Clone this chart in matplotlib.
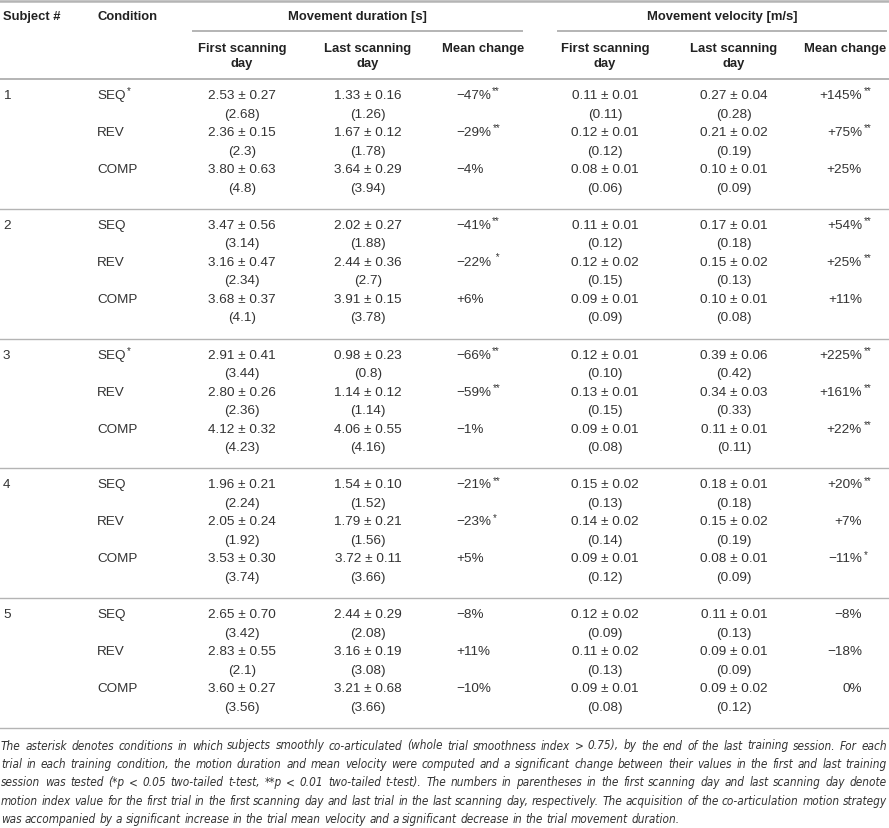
import matplotlib
matplotlib.use("Agg")
import matplotlib.pyplot as plt
from matplotlib import font_manager
from matplotlib.font_manager import FontProperties

# данные таблицы
subjects = ["1", "2", "3", "4", "5"]
conditions = ["SEQ", "REV", "COMP"]
cond_star = [["*", "", ""], ["", "", ""], ["*", "", ""], ["", "", ""], ["", "", ""]]

dur_first_mean = [[2.53, 2.36, 3.80], [3.47, 3.16, 3.68], [2.91, 2.80, 4.12], [1.96, 2.05, 3.53], [2.65, 2.83, 3.60]]
dur_first_sd = [[0.27, 0.15, 0.63], [0.56, 0.47, 0.37], [0.41, 0.26, 0.32], [0.21, 0.24, 0.30], [0.70, 0.55, 0.27]]
dur_first_trial = [["2.68", "2.3", "4.8"], ["3.14", "2.34", "4.1"], ["3.44", "2.36", "4.23"], ["2.24", "1.92", "3.74"], ["3.42", "2.1", "3.56"]]
dur_last_mean = [[1.33, 1.67, 3.64], [2.02, 2.44, 3.91], [0.98, 1.14, 4.06], [1.54, 1.79, 3.72], [2.44, 3.16, 3.21]]
dur_last_sd = [[0.16, 0.12, 0.29], [0.27, 0.36, 0.15], [0.23, 0.12, 0.55], [0.10, 0.21, 0.11], [0.29, 0.19, 0.68]]
dur_last_trial = [["1.26", "1.78", "3.94"], ["1.88", "2.7", "3.78"], ["0.8", "1.14", "4.16"], ["1.52", "1.56", "3.66"], ["2.08", "3.08", "3.66"]]
dur_change = [[-47, -29, -4], [-41, -22, 6], [-66, -59, -1], [-21, -23, 5], [-8, 11, -10]]
dur_sig = [["**", "**", ""], ["**", " *", ""], ["**", "**", ""], ["**", "*", ""], ["", "", ""]]

vel_first_mean = [[0.11, 0.12, 0.08], [0.11, 0.12, 0.09], [0.12, 0.13, 0.09], [0.15, 0.14, 0.09], [0.12, 0.11, 0.09]]
vel_first_sd = [[0.01, 0.01, 0.01], [0.01, 0.02, 0.01], [0.01, 0.01, 0.01], [0.02, 0.02, 0.01], [0.02, 0.02, 0.01]]
vel_first_trial = [["0.11", "0.12", "0.06"], ["0.12", "0.15", "0.09"], ["0.10", "0.15", "0.08"], ["0.13", "0.14", "0.12"], ["0.09", "0.13", "0.08"]]
vel_last_mean = [[0.27, 0.21, 0.10], [0.17, 0.15, 0.10], [0.39, 0.34, 0.11], [0.18, 0.15, 0.08], [0.11, 0.09, 0.09]]
vel_last_sd = [[0.04, 0.02, 0.01], [0.01, 0.02, 0.01], [0.06, 0.03, 0.01], [0.01, 0.02, 0.01], [0.01, 0.01, 0.02]]
vel_last_trial = [["0.28", "0.19", "0.09"], ["0.18", "0.13", "0.08"], ["0.42", "0.33", "0.11"], ["0.18", "0.19", "0.09"], ["0.13", "0.09", "0.12"]]
vel_change = [[145, 75, 25], [54, 25, 11], [225, 161, 22], [20, 7, -11], [-8, -18, 0]]
vel_sig = [["**", "**", ""], ["**", "**", ""], ["**", "**", "**"], ["**", "", "*"], ["", "", ""]]

caption_lines = [
    "The asterisk denotes conditions in which subjects smoothly co-articulated (whole trial smoothness index > 0.75), by the end of the last training session. For each",
    "trial in each training condition, the motion duration and mean velocity were computed and a significant change between their values in the first and last training",
    "session was tested (*p < 0.05 two-tailed t-test, **p < 0.01 two-tailed t-test). The numbers in parentheses in the first scanning day and last scanning day denote",
    "motion index value for the first trial in the first scanning day and last trial in the last scanning day, respectively. The acquisition of the co-articulation motion strategy",
    "was accompanied by a significant increase in the trial mean velocity and a significant decrease in the trial movement duration.",
]

W, H = 889, 829
txt_color = "#333333"
head_color = "#222222"
line_color = "#b4b4b4"
body_font = "Liberation Sans"
fs = 9.7
fs_head = 9.4

# узкий курсив для подписи, если есть
cap_file = None
for f in font_manager.fontManager.ttflist:
    if f.style in ("italic", "oblique") and f.weight in (400, "normal", "regular") and \
            str(f.stretch) in ("condensed", "semi-condensed") and \
            f.name in ("Liberation Sans Narrow", "DejaVu Sans", "Noto Sans", "Roboto", "Open Sans"):
        cap_file = f.fname
        break

fig = plt.figure(figsize=(W / 100, H / 100), dpi=100)
ax = fig.add_axes([0, 0, 1, 1])
ax.set_xlim(0, W)
ax.set_ylim(H, 0)
ax.axis("off")


def fmt_change(v):
    if v > 0:
        return "+%d%%" % v
    if v < 0:
        return "\u2212%d%%" % abs(v)
    return "0%"


def put(x, y, s, ha="center", bold=False, star=""):
    t = ax.text(x, y, s, ha=ha, va="center", fontsize=fs_head if bold else fs,
                family=body_font, color=head_color if bold else txt_color,
                fontweight="bold" if bold else "normal")
    if star:
        ax.annotate(star, xy=(1, 1), xycoords=t, xytext=(1, -1), textcoords="offset points",
                    ha="left", va="center", fontsize=7, family=body_font, color=txt_color)
    return t


# колонки
x_subj, x_cond = 3, 97
x_df, x_dl, x_dm = 242, 368, 456
x_vf, x_vl, x_vm = 605, 734, 862

# шапка
put(x_subj, 17, "Subject #", ha="left", bold=True)
put(x_cond, 17, "Condition", ha="left", bold=True)
put(357, 17, "Movement duration [s]", bold=True)
put(722, 17, "Movement velocity [m/s]", bold=True)
ax.plot([193, 522], [32, 32], color=line_color, lw=1.4)
ax.plot([558, 886], [32, 32], color=line_color, lw=1.4)
for xc in (x_df, x_dl, x_vf, x_vl):
    put(xc, 49, "First scanning" if xc in (x_df, x_vf) else "Last scanning", bold=True)
    put(xc, 64, "day", bold=True)
put(483, 49, "Mean change", bold=True)
put(845, 49, "Mean change", bold=True)

ax.plot([0, W], [2, 2], color=line_color, lw=1.8)
ax.plot([0, W], [80, 80], color=line_color, lw=1.4)

# строки
block_h = 129.8
step = 18.5
for i, subj in enumerate(subjects):
    top = 80 + i * block_h
    put(x_subj, top + 16, subj, ha="left")
    for j, cond in enumerate(conditions):
        y1 = top + 16 + 2 * j * step
        y2 = y1 + step
        put(x_cond, y1, cond, ha="left", star=cond_star[i][j])
        put(x_df, y1, "%.2f \u00b1 %.2f" % (dur_first_mean[i][j], dur_first_sd[i][j]))
        put(x_df, y2, "(%s)" % dur_first_trial[i][j])
        put(x_dl, y1, "%.2f \u00b1 %.2f" % (dur_last_mean[i][j], dur_last_sd[i][j]))
        put(x_dl, y2, "(%s)" % dur_last_trial[i][j])
        put(x_dm, y1, fmt_change(dur_change[i][j]), ha="left", star=dur_sig[i][j])
        put(x_vf, y1, "%.2f \u00b1 %.2f" % (vel_first_mean[i][j], vel_first_sd[i][j]))
        put(x_vf, y2, "(%s)" % vel_first_trial[i][j])
        put(x_vl, y1, "%.2f \u00b1 %.2f" % (vel_last_mean[i][j], vel_last_sd[i][j]))
        put(x_vl, y2, "(%s)" % vel_last_trial[i][j])
        put(x_vm, y1, fmt_change(vel_change[i][j]), ha="right", star=vel_sig[i][j])
    ax.plot([0, W], [top + block_h, top + block_h], color=line_color, lw=1.0)

# подпись: подбор размера и выравнивание по ширине
renderer = fig.canvas.get_renderer()
left, right = 1, 887


def cap_text(x, y, s, size):
    if cap_file:
        fp = FontProperties(fname=cap_file, size=size)
    else:
        fp = FontProperties(family=body_font, style="italic", size=size)
    return ax.text(x, y, s, ha="left", va="center", fontproperties=fp, color=txt_color)


def width(a):
    return a.get_window_extent(renderer=renderer).width


probe = [cap_text(0, 0, s, 10) for s in caption_lines]
cap_fs = min(10 * (right - left) / width(p) for p in probe) * 0.99
cap_fs = min(cap_fs, 9.8)
for p in probe:
    p.remove()

tmp1 = cap_text(0, 0, "a a", cap_fs)
tmp2 = cap_text(0, 0, "aa", cap_fs)
sp = width(tmp1) - width(tmp2)
tmp1.remove()
tmp2.remove()

cap_y0, cap_step = 746, 18.5
for k, line in enumerate(caption_lines):
    y = cap_y0 + k * cap_step
    words = line.split(" ")
    arts = [cap_text(0, y, w, cap_fs) for w in words]
    widths = [width(a) for a in arts]
    if k < len(caption_lines) - 1:
        gap = (right - left - sum(widths)) / (len(words) - 1)
    else:
        gap = sp
    x = left
    for a, w in zip(arts, widths):
        a.set_x(x)
        x += w + gap

fig.savefig("out.png", dpi=100)
